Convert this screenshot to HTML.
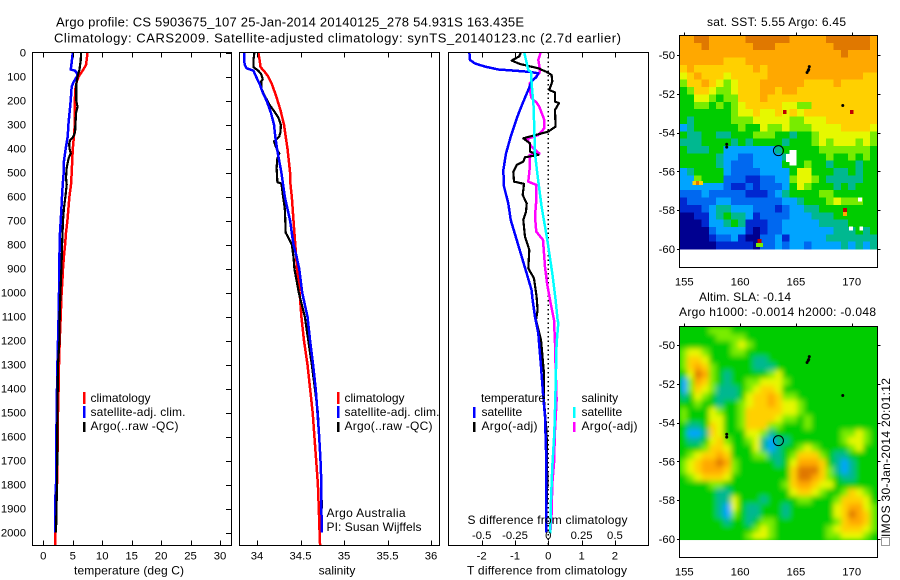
<!DOCTYPE html>
<html>
<head>
<meta charset="utf-8">
<title>Argo profile chart</title>
<style>
html,body{margin:0;padding:0;background:#fff;}
svg{display:block;}
text{font-family:"Liberation Sans",sans-serif;font-size:12px;fill:#000;}
.num{font-size:11.3px;}
</style>
</head>
<body>
<svg id="chart" xmlns="http://www.w3.org/2000/svg" width="900" height="580" viewBox="0 0 900 580">
<defs>
<clipPath id="clip-map-sst"><rect x="679.5" y="35.5" width="198" height="232"/></clipPath>
<clipPath id="clip-map-sla"><rect x="679.5" y="326.5" width="198" height="231"/></clipPath>
<filter id="smooth" x="-5%" y="-5%" width="110%" height="110%"><feGaussianBlur stdDeviation="2.6"/></filter>
</defs>
<rect width="900" height="580" fill="#fff"/>
<text x="56" y="26.5" textLength="468" style="font-size:13px">Argo profile: CS 5903675_107 25-Jan-2014 20140125_278 54.931S 163.435E</text>
<text x="54" y="42.5" textLength="567" style="font-size:13px">Climatology: CARS2009. Satellite-adjusted climatology: synTS_20140123.nc (2.7d earlier)</text>

<g id="layer-map-sst"></g>
<g id="layer-map-sla"></g>
<g id="layer-profiles"></g>
<g id="layer-axes"></g>

<text x="129" y="574.5" text-anchor="middle" textLength="110">temperature (deg C)</text>
<text x="337" y="574.5" text-anchor="middle">salinity</text>
<text x="547" y="574.5" text-anchor="middle" textLength="160">T difference from climatology</text>
<text x="547.5" y="524" text-anchor="middle" textLength="160">S difference from climatology</text>

<g>
<rect x="83" y="392" width="2.5" height="12" fill="#f00"/>
<text x="90.5" y="402">climatology</text>
<rect x="83" y="406" width="2.5" height="12" fill="#00f"/>
<text x="90.5" y="416" textLength="95">satellite-adj. clim.</text>
<rect x="83" y="422" width="2.5" height="10" fill="#000"/>
<text x="90.5" y="430" textLength="88">Argo(..raw -QC)</text>
</g>
<g>
<rect x="337" y="392" width="2.5" height="12" fill="#f00"/>
<text x="344.5" y="402">climatology</text>
<rect x="337" y="406" width="2.5" height="12" fill="#00f"/>
<text x="344.5" y="416" textLength="95">satellite-adj. clim.</text>
<rect x="337" y="422" width="2.5" height="10" fill="#000"/>
<text x="344.5" y="430" textLength="88">Argo(..raw -QC)</text>
</g>
<text x="326.5" y="517" textLength="79">Argo Australia</text>
<text x="326.5" y="531" textLength="95">PI: Susan Wijffels</text>

<g>
<text x="481" y="402" textLength="64">temperature</text>
<rect x="473" y="407" width="2.5" height="11" fill="#00f"/>
<text x="481.5" y="416">satellite</text>
<rect x="473" y="422" width="2.5" height="10" fill="#000"/>
<text x="481.5" y="430" textLength="56">Argo(-adj)</text>
<text x="581.5" y="402">salinity</text>
<rect x="573" y="407" width="2.5" height="11" fill="#0ff"/>
<text x="581.5" y="416">satellite</text>
<rect x="573" y="422" width="2.5" height="10" fill="#f0f"/>
<text x="581.5" y="430" textLength="56">Argo(-adj)</text>
</g>

<text x="776.5" y="26" text-anchor="middle" textLength="139">sat. SST: 5.55 Argo: 6.45</text>
<text x="745" y="301" text-anchor="middle" textLength="92">Altim. SLA: -0.14</text>
<text x="777.5" y="316" text-anchor="middle" textLength="197">Argo h1000: -0.0014 h2000: -0.048</text>
<text transform="translate(890,537) rotate(-90)" textLength="159">IMOS 30-Jan-2014 20:01:12</text>
<rect x="881.5" y="537.5" width="8" height="8" fill="none" stroke="#333" stroke-width="1" stroke-dasharray="1 1"/>
</svg>

<script>
// ---- axis tick labels ----
var depthTicks = [0,100,200,300,400,500,600,700,800,900,1000,1100,1200,1300,1400,1500,1600,1700,1800,1900,2000];
var temperatureTicks = [0,5,10,15,20,25,30];
var salinityTicks = [34,34.5,35,35.5,36];
var tDiffTicks = [-2,-1,0,1,2];
var sDiffTicks = [-0.5,-0.25,0,0.25,0.5];
var lonTicks = [155,160,165,170];
var latTicks = [-50,-52,-54,-56,-58,-60];

// ---- temperature profiles ----
var climTempDepth = [0,50,70,100,120,150,200,300,350,400,450,500,550,600,650,700,750,800,850,900,950,1000,1100,1200,1300,1400,1500,1600,1700,1800,1900,2000,2055];
var climTemp = [7.5,7.27,6.8,6.0,5.68,5.45,5.34,5.34,5.2,5.0,4.9,4.83,4.7,4.43,4.26,4.1,3.86,3.7,3.5,3.35,3.24,3.1,2.95,2.78,2.67,2.6,2.5,2.44,2.39,2.33,2.16,2.05,2.0];
var satTempDepth = [0,50,70,75,90,100,120,140,200,300,350,400,450,500,550,600,650,700,750,800,850,900,1000,1100,1200,1300,1400,1500,1600,1700,1800,1850,2000];
var satTemp = [5.0,4.77,4.66,5.4,5.8,5.68,5.2,4.83,4.66,4.26,4.15,3.8,3.52,3.47,3.3,3.18,3.07,2.95,2.84,2.78,2.73,2.67,2.67,2.6,2.5,2.39,2.33,2.27,2.2,2.2,2.16,2.05,2.0];
var argoTempDepth = [0,30,50,70,100,130,200,225,250,300,330,350,365,380,400,420,440,480,520,550,600,650,700,800,900,1000,1100,1200,1300,1500,1700,1800,2000];
var argoTemp = [6.4,6.36,6.25,6.14,5.8,5.6,5.6,5.8,5.57,5.45,5.4,5.1,4.55,4.4,4.45,4.66,4.3,3.98,3.86,3.98,3.75,3.5,3.35,3.2,3.07,2.9,2.78,2.73,2.5,2.39,2.36,2.33,2.16];

// ---- salinity profiles ----
var climSalDepth = [0,30,60,80,100,130,180,240,300,350,400,450,500,550,600,700,750,800,850,900,1000,1100,1200,1300,1400,1500,1600,1700,1800,1900,2000,2055];
var climSal = [34.015,34.03,34.04,34.09,34.13,34.17,34.22,34.27,34.31,34.33,34.35,34.365,34.38,34.385,34.4,34.42,34.43,34.44,34.45,34.46,34.49,34.51,34.54,34.58,34.61,34.64,34.66,34.68,34.7,34.71,34.72,34.725];
var satSalDepth = [0,30,50,65,75,100,130,170,200,250,300,350,400,450,500,550,600,700,750,800,850,900,1000,1100,1200,1300,1400,1500,1600,1700,1800,1900,2000];
var satSal = [33.85,33.85,33.86,33.88,33.96,33.99,34.03,34.07,34.11,34.16,34.195,34.21,34.23,34.255,34.28,34.3,34.32,34.38,34.4,34.42,34.455,34.485,34.52,34.58,34.61,34.645,34.675,34.695,34.715,34.73,34.74,34.74,34.745];
var argoSalDepth = [0,30,60,75,90,110,120,150,180,215,240,270,300,330,350,370,400,420,440,480,540,545,600,650,700,750,770,800,850,900,1000,1100,1200,1300,1400,1500,1600,1700,1800,1900];
var argoSal = [33.97,33.96,33.96,34.015,34.05,34.065,34.05,34.05,34.09,34.14,34.19,34.245,34.275,34.27,34.255,34.195,34.225,34.255,34.235,34.225,34.235,34.28,34.3,34.32,34.325,34.33,34.36,34.4,34.42,34.43,34.48,34.55,34.59,34.63,34.665,34.7,34.715,34.73,34.74,34.745];

// ---- difference profiles ----
var satTDiffDepth = [0,30,45,58,70,75,80,86,100,120,155,210,267,350,420,490,558,628,697,780,850,920,990,1030,1100,1170,1308,1419,1516,1655,1794,1933,2000];
var satTDiff = [-2.37,-2.35,-2.2,-1.9,-1.5,-1.0,-0.55,-0.3,-0.35,-0.5,-0.6,-0.77,-0.93,-1.13,-1.27,-1.35,-1.33,-1.2,-1.13,-0.95,-0.8,-0.65,-0.5,-0.47,-0.4,-0.3,-0.22,-0.16,-0.1,-0.07,-0.07,-0.07,-0.07];
var argoTDiffDepth = [0,15,33,47,65,80,93,120,155,166,204,210,239,308,329,357,378,412,426,436,454,468,496,537,547,593,628,662,697,767,822,899,940,1017,1072,1114,1197,1336,1447,1586,1794,1975];
var argoTDiff = [-0.83,-0.87,-1.1,-0.85,-0.3,-0.05,0.1,0.12,0.03,0.2,0.2,0.32,0.2,0.22,0,-0.75,-0.55,-0.55,-0.3,-0.7,-0.75,-0.95,-1.05,-1.03,-0.73,-0.77,-0.65,-0.67,-0.75,-0.7,-0.57,-0.6,-0.43,-0.35,-0.32,-0.37,-0.22,-0.13,-0.13,-0.05,-0.03,-0.07];
var argoSDiffDepth = [0,30,72,86,128,155,190,208,225,280,315,343,360,392,420,426,482,537,551,614,683,746,780,892,960,1043,1114,1210,1308,1447,1572,1711,1794,1919,1989];
var argoSDiff = [-0.0575,-0.075,-0.0625,-0.0675,-0.14,-0.14,-0.125,-0.0875,-0.0675,-0.03,-0.03,-0.075,-0.16,-0.125,-0.0675,-0.14,-0.14,-0.15,-0.09,-0.09,-0.1,-0.09,-0.04,-0.025,-0.01,0.0175,0.0425,0.05,0.055,0.0625,0.05,0.0425,0.03,0.025,0.0175];
var satSDiffDepth = [0,72,80,128,225,420,503,642,780,920,1030,1114,1127,1210,1447,1586,1725,1864,2003];
var satSDiff = [-0.18,-0.15,-0.13,-0.125,-0.11,-0.1,-0.0825,-0.05,-0.0075,0.03,0.055,0.07,0.075,0.0625,0.0525,0.045,0.03,0.02,0.015];

// ---- float positions and profile location on maps ----
var floatLons = [166.1,166.2,166.0,166.15,169.2,158.8,158.8];
var floatLats = [-50.8,-50.6,-50.9,-50.75,-52.6,-54.6,-54.75];
var profileLon = [163.435];
var profileLat = [-54.931];

// ---- heatmap colour levels ----
var levelColors = ["#000090","#0028d0","#0068f0","#00a4ff","#00b890","#00cc00","#78ec00","#e6f800","#ffd000","#ffa800","#e07800","#c00000"];

// ---- SST map, rows north to south, colour level per cell ----
var sstRows = [
[9,9,10,10,9,9,9,9,9,10,10,10,10,10,10,9,9,9,9,9,10,10,10,10,10,10,9],
[9,9,9,10,9,9,9,9,9,9,10,10,10,9,9,9,9,9,9,9,9,10,10,10,10,10,9],
[9,9,9,9,9,9,9,9,9,9,9,9,9,9,9,9,9,9,9,9,9,9,10,9,9,9,9],
[9,9,9,9,9,9,8,8,8,9,9,9,9,9,9,9,9,9,9,9,9,9,9,9,9,9,9],
[8,9,8,8,8,8,8,8,8,8,9,8,9,9,9,9,9,9,9,9,9,9,9,9,9,9,9],
[7,8,9,8,8,8,7,8,8,8,8,8,9,9,9,9,9,9,9,9,9,9,9,9,9,8,8],
[6,8,8,9,8,7,6,7,8,8,8,9,9,9,9,9,9,8,8,8,8,9,8,8,8,8,8],
[5,6,8,8,7,6,6,7,8,8,8,9,9,8,9,9,8,8,8,8,8,8,8,8,8,8,8],
[5,5,7,7,6,5,6,6,8,8,8,9,8,8,8,8,8,8,8,8,8,8,8,8,8,8,8],
[5,5,6,6,5,6,5,6,7,8,8,8,8,8,7,7,6,6,8,8,8,8,8,8,8,8,8],
[5,5,5,5,5,5,5,6,7,7,8,7,7,8,7,8,7,8,8,8,8,8,8,8,8,8,8],
[5,4,5,5,5,5,5,6,6,6,7,7,7,7,7,6,6,7,7,7,8,8,8,8,8,8,8],
[3,4,5,5,5,5,5,5,6,5,5,7,6,6,7,6,6,6,7,7,7,7,8,8,8,8,7],
[5,4,4,5,5,4,4,5,5,5,6,6,6,5,5,4,5,5,6,7,7,7,7,7,7,7,6],
[4,4,4,5,5,5,5,4,5,4,5,5,5,5,4,5,5,5,6,7,6,7,7,7,6,7,6],
[5,4,4,4,5,5,3,3,3,3,3,3,3,4,5,5,5,5,5,6,6,6,6,6,6,6,5],
[5,5,5,5,5,4,3,3,2,2,3,3,3,3,4,5,5,5,5,5,6,5,5,6,5,6,5],
[5,5,5,5,5,4,3,2,2,2,3,3,3,3,5,5,5,6,5,5,4,5,5,5,4,5,5],
[3,4,5,5,5,5,3,2,2,2,2,3,3,3,3,5,7,7,5,5,5,4,4,5,4,5,5],
[3,3,6,5,5,5,2,2,2,1,1,2,2,3,3,6,7,7,6,5,4,4,4,4,4,5,5],
[3,3,3,3,3,3,2,1,1,2,1,2,2,2,3,5,7,6,5,5,5,4,5,4,5,5,5],
[2,2,2,3,2,2,2,2,2,1,1,1,2,3,4,5,5,5,5,6,6,5,5,5,5,5,5],
[1,2,2,2,2,3,3,2,2,2,2,2,2,2,3,3,4,5,5,5,6,7,6,6,6,5,5],
[1,1,1,2,3,4,4,3,3,3,2,2,2,1,2,3,3,4,4,5,5,5,5,5,5,5,5],
[0,0,1,1,3,4,5,4,4,3,1,2,2,2,2,3,3,3,4,4,4,5,5,5,5,5,5],
[0,0,0,1,3,3,4,5,4,1,1,1,2,2,3,3,3,3,3,4,4,4,4,5,5,5,5],
[0,0,0,0,2,3,3,3,3,1,0,1,2,2,3,3,3,3,3,3,3,4,4,4,5,4,5],
[0,0,0,0,1,2,2,3,1,0,0,2,2,3,1,3,3,3,3,3,4,4,4,4,4,4,4],
[0,0,0,0,0,1,1,1,1,1,0,2,2,3,2,3,3,2,3,3,3,3,4,3,4,3,4]
];

// ---- single anomalous SST pixels (level null = missing, drawn white) ----
var spotLons = [164.0,170.0,161.75,161.9,161.6,169.4,169.4,155.9,156.2,156.5,170.75,169.95,170.85,164.3,164.6,164.9,164.3,164.6,164.9,164.6,164.9,164.6,164.9];
var spotLats = [-52.95,-52.95,-59.6,-59.8,-59.8,-58.0,-58.2,-56.6,-56.6,-56.6,-57.45,-58.95,-58.95,-55.2,-55.2,-55.2,-55.4,-55.4,-55.4,-55.0,-55.0,-55.6,-55.6];
var spotLevels = [11,11,11,6,6,11,9,8,10,8,null,null,null,null,null,null,null,null,null,null,null,null,null];

// ---- SLA map, rows north to south, colour level per cell ----
var slaRows = [
[5,5,5,5,6,6,6,5,5,5,5,5,5,5,5,5,5,5,5,5,5,5,5,5,5,5,5],
[5,5,5,5,5,6,6,6,6,5,5,5,5,5,5,5,5,5,5,5,5,5,5,5,5,5,5],
[5,5,5,5,5,5,5,6,7,6,5,5,5,5,5,5,5,5,5,5,5,5,5,5,5,5,5],
[6,7,7,6,5,5,5,6,6,5,5,5,5,5,5,5,5,5,5,5,5,5,5,5,5,5,5],
[6,8,8,7,5,5,5,5,5,5,4,4,5,5,5,5,5,5,5,5,5,5,5,5,5,5,5],
[6,8,9,8,6,5,5,5,5,5,4,4,4,5,5,5,5,5,5,5,5,5,5,5,5,5,5],
[5,7,10,9,6,5,4,5,5,5,5,5,6,7,5,5,5,5,5,5,5,5,5,5,5,5,5],
[3,6,9,8,6,5,4,5,5,6,6,7,7,7,6,5,5,5,5,5,5,5,5,5,5,5,5],
[3,6,8,7,6,4,4,4,5,6,7,8,8,7,5,5,5,5,5,5,5,5,5,5,5,5,5],
[4,5,7,6,5,4,4,4,5,7,8,8,9,8,6,6,5,5,5,5,5,5,5,5,5,5,5],
[5,5,6,5,5,4,5,5,6,7,8,8,9,8,7,7,6,5,5,5,5,5,5,5,5,5,5],
[6,5,5,5,7,6,5,5,6,8,8,8,8,8,7,7,6,5,5,5,5,5,5,5,5,5,5],
[6,5,5,5,7,7,5,5,6,8,8,8,8,7,6,6,5,6,5,5,5,5,5,5,5,5,5],
[5,4,4,5,8,7,5,5,6,8,8,8,6,6,5,5,5,6,5,5,5,5,5,5,5,5,5],
[5,3,3,4,8,7,5,5,5,7,7,6,4,5,5,5,5,5,5,5,5,5,6,6,7,6,5],
[5,4,4,5,7,8,6,5,5,6,7,4,3,4,4,5,5,5,5,5,5,5,6,7,7,6,5],
[5,5,5,6,8,8,7,5,5,5,7,4,3,4,5,5,6,7,6,5,5,5,5,6,7,5,5],
[5,6,7,8,8,9,8,5,5,5,6,6,4,4,5,6,8,8,8,6,5,4,4,5,5,5,5],
[6,7,8,9,9,10,9,6,5,5,5,5,5,4,5,7,9,9,9,8,5,4,3,4,5,5,5],
[6,7,8,9,9,9,8,6,5,5,5,5,5,5,5,8,10,10,10,8,6,4,3,4,5,5,5],
[5,6,7,8,8,8,7,5,5,5,5,5,5,5,5,8,10,10,9,8,6,5,4,4,5,5,5],
[5,5,5,5,6,6,5,5,5,5,5,5,5,5,6,8,9,9,8,7,7,5,5,5,5,5,5],
[5,5,5,5,5,4,4,5,5,5,5,5,5,5,5,7,8,8,7,6,5,5,6,8,7,6,5],
[5,5,5,5,5,4,4,7,5,5,5,4,5,5,5,5,6,6,5,5,5,6,8,8,8,7,5],
[5,5,5,5,5,4,3,7,5,4,4,5,5,5,4,5,5,5,5,5,5,7,8,9,9,7,6],
[5,5,5,5,5,4,3,6,5,4,4,5,5,5,4,5,5,5,5,5,5,7,8,10,9,8,6],
[5,5,5,5,5,5,4,5,5,4,5,6,6,5,5,5,5,5,5,5,5,6,8,9,9,8,6],
[5,5,5,5,5,5,5,5,5,5,6,7,6,5,5,5,5,5,5,5,6,7,8,8,8,7,6],
[5,5,5,5,5,5,5,5,5,6,7,7,6,5,5,5,5,5,5,5,6,6,7,7,7,6,5]
];

var NS = "http://www.w3.org/2000/svg";
function mk(parent, tag, attrs) {
  var el = document.createElementNS(NS, tag);
  for (var k in attrs) el.setAttribute(k, attrs[k]);
  parent.appendChild(el);
  return el;
}

// ---- axis functions ----
function yDepth(d) { return 52.67 + d * 0.24; }
function xTemp(t) { return 43.3 + t * 5.89; }
function xSal(s) { return 257 + (s - 34) * 87; }
function xTDiff(t) { return 548.3 + t * 33.3; }
function xSDiff(s) { return 548.3 + s * 133.2; }
function xLon(lon) { return 684.3 + (lon - 155) * 11.16; }
function ySstLat(lat) { return 55 + (-50 - lat) * 19.4; }
function ySlaLat(lat) { return 345 + (-50 - lat) * 19.4; }

var axes = document.getElementById("layer-axes");
var profiles = document.getElementById("layer-profiles");

// dotted zero line
var zeroLine = mk(profiles, "line", {x1: xTDiff(0), x2: xTDiff(0), y1: 52.5, y2: 545, stroke: "#000", "stroke-width": 1.4, "stroke-dasharray": "1.5 3", "shape-rendering": "crispEdges"});



function drawProfile(name, depths, values, xFn, color, width) {
  var pts = [];
  for (var i = 0; i < values.length; i++) pts.push(xFn(values[i]).toFixed(1) + "," + yDepth(depths[i]).toFixed(1));
  var line = mk(profiles, "polyline", {points: pts.join(" "), fill: "none", stroke: color, "stroke-width": width, "stroke-linejoin": "round", "shape-rendering": "crispEdges"});
  
  
}
drawProfile("climatology-temperature-line", climTempDepth, climTemp, xTemp, "#f00", 2.5);
drawProfile("satellite-temperature-line", satTempDepth, satTemp, xTemp, "#00f", 2.5);
drawProfile("argo-temperature-line", argoTempDepth, argoTemp, xTemp, "#000", 2.2);
drawProfile("climatology-salinity-line", climSalDepth, climSal, xSal, "#f00", 2.5);
drawProfile("argo-salinity-line", argoSalDepth, argoSal, xSal, "#000", 2.2);
drawProfile("satellite-salinity-line", satSalDepth, satSal, xSal, "#00f", 2.5);
drawProfile("argo-s-difference-line", argoSDiffDepth, argoSDiff, xSDiff, "#f0f", 2.5);
drawProfile("argo-t-difference-line", argoTDiffDepth, argoTDiff, xTDiff, "#000", 2.2);
drawProfile("satellite-t-difference-line", satTDiffDepth, satTDiff, xTDiff, "#00f", 2.5);
drawProfile("satellite-s-difference-line", satSDiffDepth, satSDiff, xSDiff, "#0ff", 2.5);

// ---- panel frames and ticks ----
function frame(name, x0, x1, y0, y1) {
  var r = mk(axes, "rect", {x: x0, y: y0, width: x1 - x0, height: y1 - y0, fill: "none", stroke: "#000", "stroke-width": 1, "shape-rendering": "crispEdges"});
  
  
}
function tick(x1, y1, x2, y2) {
  var t = mk(axes, "line", {x1: x1, y1: y1, x2: x2, y2: y2, stroke: "#000", "stroke-width": 1, "shape-rendering": "crispEdges"});
  
  
}
function label(str, x, y, anchor) {
  var t = mk(axes, "text", {x: x, y: y, "text-anchor": anchor, "class": "num"});
  t.textContent = str;
  
  
}
var PT = 52.5, PB = 545.5;
frame("temperature-panel-frame", 32.5, 231.5, PT, PB);
frame("salinity-panel-frame", 239.5, 439.5, PT, PB);
frame("difference-panel-frame", 448.5, 648.5, PT, PB);

depthTicks.forEach(function (d) {
  var y = Math.round(yDepth(d)) + 0.5;
  tick(226, y, 231.5, y);
  label(String(d), 26, yDepth(d) + 4, "end");
});
function xAxis(values, xFn) {
  values.forEach(function (v) {
    var x = Math.round(xFn(v)) + 0.5;
    tick(x, PT, x, PT + 5);
    tick(x, PB - 5, x, PB);
    label(String(v), xFn(v), 559.5, "middle");
  });
}
xAxis(temperatureTicks, xTemp);
xAxis(salinityTicks, xSal);
xAxis(tDiffTicks, xTDiff);
sDiffTicks.forEach(function (v) {
  label(String(v), xSDiff(v), 539, "middle");
});

// ---- maps ----
function drawMap(layerId, rows, top, clipId, smooth, yLat, frameBottom, frameTop, baseName) {
  var layer = document.getElementById(layerId);
  var clip = mk(layer, "g", {"clip-path": "url(#" + clipId + ")"});
  var cw = 198 / rows[0].length, ch = 213.6 / rows.length;
  var holder = clip;
  if (smooth) {
    mk(clip, "rect", {x: 679.5, y: top, width: 198, height: 213.6, fill: levelColors[5]});
    holder = mk(clip, "g", {filter: "url(#smooth)"});
  }
  rows.forEach(function (row, r) {
    row.forEach(function (v, c) {
      var cell = mk(holder, "rect", {x: (679.5 + c * cw).toFixed(2), y: (top + r * ch).toFixed(2), width: (cw + 0.4).toFixed(2), height: (ch + 0.4).toFixed(2), fill: levelColors[v], "shape-rendering": "crispEdges"});
      
      
    });
  });
  if (smooth) {
    var blank = mk(clip, "rect", {x: 679.5, y: top + 213.6, width: 198, height: 30, fill: "#fff"});
    
    
  } else {
    spotLons.forEach(function (lon, i) {
      var lev = spotLevels[i];
      var spot = mk(clip, "rect", {x: (xLon(lon) - 1.9).toFixed(2), y: (yLat(spotLats[i]) - 2).toFixed(2), width: 3.8, height: 4, fill: lev === null ? "#fff" : levelColors[lev], "shape-rendering": "crispEdges"});
      
      
    });
  }
  floatLons.forEach(function (lon, i) {
    var dot = mk(layer, "circle", {cx: xLon(lon), cy: yLat(floatLats[i]), r: 1.5, fill: "#000"});
    
    
  });
  var ring = mk(layer, "circle", {cx: xLon(profileLon[0]), cy: yLat(profileLat[0]), r: 5, fill: "none", stroke: "#000", "stroke-width": 1});
  
  

  frame(baseName + "-frame", 679.5, 877.5, frameTop, frameBottom);
  lonTicks.forEach(function (lon) {
    var x = Math.round(xLon(lon)) + 0.5;
    tick(x, frameTop - 3, x, frameTop);
    label(String(lon), xLon(lon), frameBottom + 18, "middle");
  });
  latTicks.forEach(function (lat) {
    var y = Math.round(yLat(lat)) + 0.5;
    tick(677, y, 679.5, y);
    tick(877.5, y, 880.5, y);
    label(String(lat), 675, yLat(lat) + 4, "end");
  });
}
drawMap("layer-map-sst", sstRows, 35.5, "clip-map-sst", false, ySstLat, 267.5, 35.5, "sst-map");
drawMap("layer-map-sla", slaRows, 326.5, "clip-map-sla", true, ySlaLat, 557.5, 326.5, "sla-map");
</script>
</body>
</html>
